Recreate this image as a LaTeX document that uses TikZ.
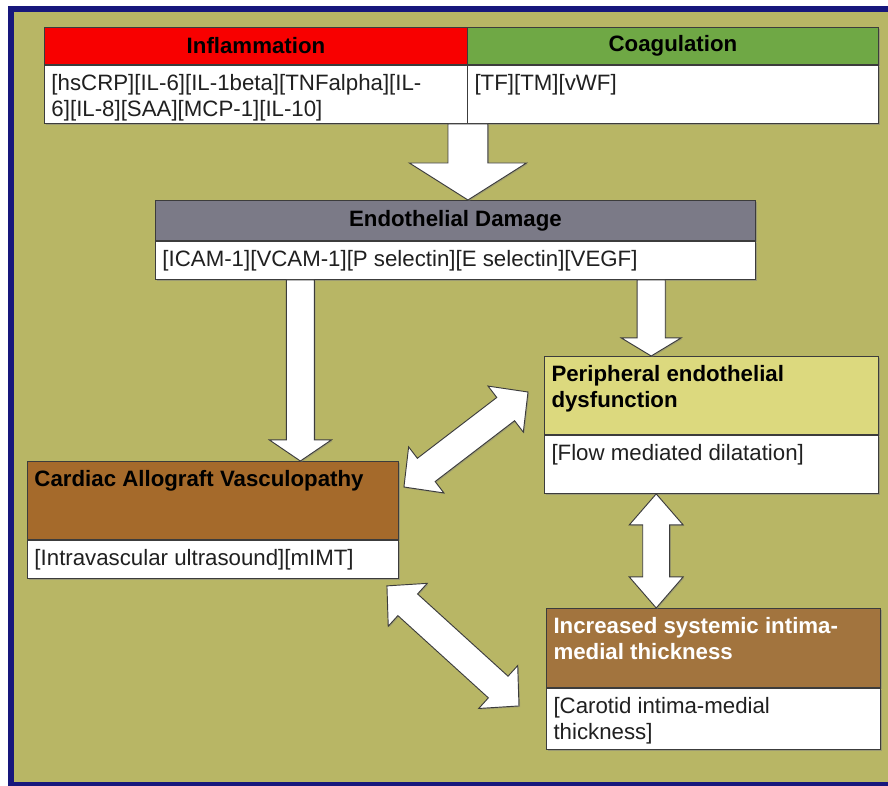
\documentclass[tikz,border=0pt]{standalone}
\usepackage{fontspec}
\setmainfont{Liberation Sans}
\usetikzlibrary{calc,shadows}

\definecolor{framenavy}{HTML}{17177C}
\definecolor{olivebg}{HTML}{B8B665}
\definecolor{inflred}{HTML}{F80000}
\definecolor{coaggreen}{HTML}{6FA845}
\definecolor{endogray}{HTML}{7B7A87}
\definecolor{cavbrown}{HTML}{A56A2B}
\definecolor{periyellow}{HTML}{DCD97E}
\definecolor{incrbrown}{HTML}{A2743E}
\definecolor{edgegray}{HTML}{3C3C3C}
\definecolor{inkdark}{HTML}{202020}

\newcommand{\cellfont}{\fontsize{19}{22.5}\selectfont}
\newcommand{\celltxt}[3]{\parbox[c][#2][t]{#1}{\vspace*{5.5pt}\leftskip=6pt\rightskip=0pt plus 1fil\strut#3}}

\begin{document}
\begin{tikzpicture}[
	cell/.style={draw=edgegray, line width=0.8pt, inner sep=0pt, anchor=north west, text=inkdark, font=\cellfont,
		drop shadow={shadow xshift=1.2pt, shadow yshift=-1.2pt, opacity=.5}},
	title/.style={cell, text=black, font=\cellfont\bfseries},
	along/.style={shift={(\p1)}, rotate=\n1},
	blockarrow/.style={draw=edgegray, fill=white, line width=0.8pt, line join=miter,
		drop shadow={shadow xshift=1pt, shadow yshift=-1pt, opacity=.4}},
	onehead/.style n args={3}{blockarrow, to path={
		let \p1=(\tikztostart), \p2=(\tikztotarget),
		\n1={atan2(\y2-\y1,\x2-\x1)}, \n2={veclen(\x2-\x1,\y2-\y1)} in
		([along]0pt,-#1/2) -- ([along]\n2-#2,-#1/2) -- ([along]\n2-#2,-#3/2)
		-- ([along]\n2+0pt,0pt) -- ([along]\n2-#2,#3/2) -- ([along]\n2-#2,#1/2)
		-- ([along]0pt,#1/2) -- cycle}},
	twohead/.style n args={3}{blockarrow, to path={
		let \p1=(\tikztostart), \p2=(\tikztotarget),
		\n1={atan2(\y2-\y1,\x2-\x1)}, \n2={veclen(\x2-\x1,\y2-\y1)} in
		([along]0pt,0pt) -- ([along]#2,-#3/2) -- ([along]#2,-#1/2)
		-- ([along]\n2-#2,-#1/2) -- ([along]\n2-#2,-#3/2) -- ([along]\n2+0pt,0pt)
		-- ([along]\n2-#2,#3/2) -- ([along]\n2-#2,#1/2) -- ([along]#2,#1/2)
		-- ([along]#2,#3/2) -- cycle}}
	]
	\useasboundingbox (0,0) rectangle (26.64,-23.55);
	\fill[white] (0,0) rectangle (27,-24);
	\fill[framenavy] (0.24,-0.18) rectangle (27,-24);
	\fill[olivebg] (0.42,-0.36) rectangle (27,-23.46);

	% top row
	\node (inflhead) at (1.32,-0.81) [title, fill=inflred, minimum width=12.69cm, minimum height=1.11cm] {Inflammation};
	\node (inflbody) at (inflhead.south west) [cell, fill=white] {\celltxt{12.69cm}{1.74cm}{[hsCRP][IL-6][IL-1beta][TNFalpha][IL-\\6][IL-8][SAA][MCP-1][IL-10]}};
	\node (coaghead) at (14.01,-0.81) [title, fill=coaggreen, minimum width=12.33cm, minimum height=1.11cm] {Coagulation};
	\node (coagbody) at (coaghead.south west) [cell, fill=white] {\celltxt{12.33cm}{1.74cm}{[TF][TM][vWF]}};

	\node (endohead) at (4.65,-6.0) [title, fill=endogray, minimum width=18cm, minimum height=1.2cm] {Endothelial Damage};
	\node (endobody) at (endohead.south west) [cell, fill=white] {\celltxt{18cm}{1.14cm}{[ICAM-1][VCAM-1][P selectin][E selectin][VEGF]}};

	\node (perihead) at (16.32,-10.68) [title, fill=periyellow] {\celltxt{10.02cm}{2.34cm}{Peripheral endothelial\\dysfunction}};
	\node (peribody) at (perihead.south west) [cell, fill=white] {\celltxt{10.02cm}{1.74cm}{[Flow mediated dilatation]}};

	\node (cavhead) at (0.81,-13.83) [title, fill=cavbrown] {\celltxt{11.13cm}{2.34cm}{Cardiac Allograft Vasculopathy}};
	\node (cavbody) at (cavhead.south west) [cell, fill=white] {\celltxt{11.13cm}{1.14cm}{[Intravascular ultrasound][mIMT]}};

	\node (incrhead) at (16.38,-18.24) [title, fill=incrbrown, text=white] {\celltxt{10.02cm}{2.37cm}{Increased systemic intima-\\medial thickness}};
	\node (incrbody) at (incrhead.south west) [cell, fill=white] {\celltxt{10.02cm}{1.83cm}{[Carotid intima-medial\\thickness]}};

	% arrow ends
	\coordinate (mixout) at (inflbody.south east);
	\coordinate (mixin) at (mixout |- endohead.north);
	\coordinate (cavin) at ($(cavhead.north west)!.735!(cavhead.north east)$);
	\coordinate (endoleft) at (endobody.south -| cavin);
	\coordinate (periin) at ($(perihead.north west)!.32!(perihead.north east)$);
	\coordinate (endoright) at (endobody.south -| periin);
	\coordinate (periout) at ($(peribody.south west)!.335!(peribody.south east)$);
	\coordinate (incrin) at (periout |- incrhead.north);
	\coordinate (cavtoperi) at ([shift={(0.15,-0.78)}]cavhead.north east);
	\coordinate (peritocav) at ([shift={(-0.48,-1.08)}]perihead.north west);
	\coordinate (cavtoincr) at ([shift={(-0.36,-0.21)}]cavbody.south east);
	\coordinate (incrtocav) at ([shift={(-0.81,-0.54)}]incrbody.north west);

	\draw[onehead={34pt}{31.6pt}{100pt}] (mixout) to (mixin);
	\draw[onehead={24pt}{18pt}{53pt}] (endoleft) to (cavin);
	\draw[onehead={24pt}{15.4pt}{51pt}] (endoright) to (periin);
	\draw[twohead={23pt}{26.5pt}{46pt}] (periout) to (incrin);
	\draw[twohead={25pt}{24pt}{49.5pt}] (cavtoperi) to (peritocav);
	\draw[twohead={25pt}{24pt}{49.5pt}] (cavtoincr) to (incrtocav);
\end{tikzpicture}
\end{document}
